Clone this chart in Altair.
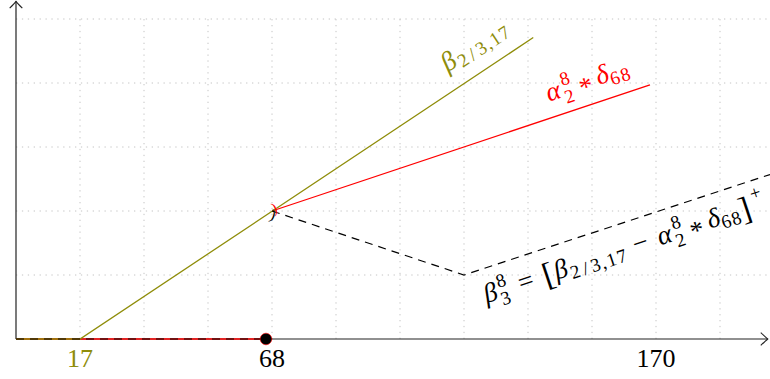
import altair as alt
import pandas as pd

# ---- data -------------------------------------------------------------
tick_values = [17, 68, 170]
tick_labels = ["17", "68", "170"]
tick_colors = ["#8f8d0a", "black", "black"]

# beta_{2/3,17}: zero up to 17, then rising
beta_x = [0, 17, 137.4]
beta_y = [0, 0, 4.71]

# alpha_2^8 * delta_68: zero up to 68, then jumps and rises
alpha_seg = [0, 0, 1, 1]
alpha_x = [0, 68, 68, 168.4]
alpha_y = [0, 0, 2, 3.97]

# beta_3^8 = [beta - alpha]^+
diff_seg = [0, 0, 1, 1, 1]
diff_x = [0, 68, 68, 119, 200.28]
diff_y = [0, 0, 2, 1, 2.57]

dot_x = [66.4]
dot_y = [0]

grid_x = [17 * k for k in range(1, 12)]
grid_y = [1, 2, 3, 4, 5]

# ---- scales -----------------------------------------------------------
W, H = 754, 339
X_MAX = W * 17 / 64
Y_MAX = H / 64
FONT = "Liberation Serif"
OLIVE = "#8f8d0a"
RED = "#ff0000"

xs = alt.Scale(domain=[0, X_MAX], nice=False, zero=False)
ys = alt.Scale(domain=[0, Y_MAX], nice=False, zero=False)


def X(field="x"):
    return alt.X(field, type="quantitative", scale=xs, axis=None)


def Y(field="y"):
    return alt.Y(field, type="quantitative", scale=ys, axis=None)


layers = []

# dotted grid
vgrid = pd.DataFrame({"x": grid_x, "y": 0, "y2": 5})
layers.append(
    alt.Chart(vgrid).mark_rule(color="#c4c4c4", strokeWidth=1, strokeDash=[1.3, 4.6])
    .encode(x=X(), y=Y(), y2="y2")
)
hgrid = pd.DataFrame({"y": grid_y, "x": 0, "x2": X_MAX})
layers.append(
    alt.Chart(hgrid).mark_rule(color="#c4c4c4", strokeWidth=1, strokeDash=[1.3, 4.6])
    .encode(y=Y(), x=X(), x2="x2")
)

# axes with arrow tips
arrow = "M -1.1 -1 Q -0.3 -0.25 0 0 Q -0.3 0.25 -1.1 1"
axis_df = pd.DataFrame({"x": [0], "y": [0], "x2": [X_MAX - 0.6], "y2": [Y_MAX - 0.02]})
layers.append(alt.Chart(axis_df).mark_rule(color="#222", strokeWidth=1.2).encode(x=X(), y=Y(), x2="x2"))
layers.append(alt.Chart(axis_df).mark_rule(color="#222", strokeWidth=1.2).encode(x=X(), y=Y(), y2="y2"))
layers.append(
    alt.Chart(axis_df).mark_point(shape=arrow, size=160, color="#222", strokeWidth=1.1, filled=False, opacity=1)
    .encode(x=X("x2"), y=Y())
)
layers.append(
    alt.Chart(axis_df).mark_point(shape=arrow, size=160, color="#222", strokeWidth=1.1, filled=False, opacity=1, angle=270)
    .encode(x=X(), y=Y("y2"))
)

# curves
alpha_df = pd.DataFrame({"x": alpha_x, "y": alpha_y, "seg": alpha_seg})
layers.append(alt.Chart(alpha_df).mark_line(color=RED, strokeWidth=1.3).encode(x=X(), y=Y(), detail="seg:N"))
beta_df = pd.DataFrame({"x": beta_x, "y": beta_y})
layers.append(alt.Chart(beta_df).mark_line(color=OLIVE, strokeWidth=1.3).encode(x=X(), y=Y()))
diff_df = pd.DataFrame({"x": diff_x, "y": diff_y, "seg": diff_seg})
layers.append(
    alt.Chart(diff_df).mark_line(color="black", strokeWidth=1.2, strokeDash=[8, 6])
    .encode(x=X(), y=Y(), detail="seg:N")
)

# open-interval marks at the jump
kink = pd.DataFrame({"x": [68], "y": [2]})
layers.append(
    alt.Chart(kink).mark_text(text=")", font=FONT, fontSize=15, color=RED, angle=341.57, dx=3, dy=-2,
                              align="center", baseline="middle").encode(x=X(), y=Y())
)
layers.append(
    alt.Chart(kink).mark_text(text=")", font=FONT, fontSize=15, color="black", angle=18.43, dx=2, dy=3,
                              align="center", baseline="middle").encode(x=X(), y=Y())
)

# point on the axis
dot_df = pd.DataFrame({"x": dot_x, "y": dot_y})
layers.append(
    alt.Chart(dot_df).mark_circle(size=135, color="black", opacity=1, stroke=RED, strokeWidth=0.6)
    .encode(x=X(), y=Y())
)

# tick labels
ticks_df = pd.DataFrame({"x": tick_values, "y": 0, "label": tick_labels, "col": tick_colors})
layers.append(
    alt.Chart(ticks_df).mark_text(font=FONT, fontSize=26, dy=28, align="center", baseline="alphabetic")
    .encode(x=X(), y=Y(), text="label:N", color=alt.Color("col:N", scale=None))
)

# ---- math labels, typeset glyph by glyph ------------------------------
# advance widths (in em) of a TeX-like math font
BASE_ADV = {"α": .640, "β": .566, "δ": .444, "=": .778, "+": .778, "−": .778,
            "*": .5, "[": .417, "]": .417}
SCRIPT_ADV = {"/": .569, ",": .32, "+": .885}
GLYPH_DY = {"*": 0.24}  # vertical nudge (em) for glyphs that sit too high


def math_label(ax, ay, angle, color, tokens, f=27):
    src = pd.DataFrame({"x": [ax], "y": [ay]})
    out = []
    s = 0.7 * f

    def glyph(ch, center, dy, size, italic=False):
        out.append(
            alt.Chart(src).mark_text(text=ch, dx=center, dy=dy, angle=angle, fontSize=size, font=FONT,
                                     fontStyle="italic" if italic else "normal", color=color,
                                     align="center", baseline="alphabetic")
            .encode(x=X(), y=Y())
        )

    def script_run(text, start, dy):
        p = start
        for ch in text:
            w = SCRIPT_ADV.get(ch, .569) * s
            glyph(ch, p + w / 2, dy, 19)
            p += w
        return p

    pos = 0.0
    for kind, val in tokens:
        if kind in ("var", "num"):
            w = BASE_ADV.get(val, .5) * f
            glyph(val, pos + w / 2, GLYPH_DY.get(val, 0) * f, 27, kind == "var")
            pos += w
        elif kind == "big":
            w = BASE_ADV[val] * f
            glyph(val, pos + w / 2, 0.11 * f, 33)
            pos += w
        elif kind == "sub":
            pos = script_run(val, pos, 0.17 * f)
        elif kind == "sup":
            pos = script_run(val, pos + 0.03 * f, -0.5 * f)
        elif kind == "subsup":
            lo, hi = val
            e1 = script_run(lo, pos, 0.28 * f)
            e2 = script_run(hi, pos + 0.03 * f, -0.4 * f)
            pos = max(e1, e2)
        elif kind in ("rel", "bin"):
            gap = (0.278 if kind == "rel" else 0.222) * f
            w = BASE_ADV.get(val, .5) * f
            pos += gap
            glyph(val, pos + w / 2, GLYPH_DY.get(val, 0) * f, 27)
            pos += w + gap
    return out


layers += math_label(114.5, 4.156, 326.31, OLIVE, [("var", "β"), ("sub", "2/3,17")])
layers += math_label(141.2, 3.70, 341.57, RED,
                     [("var", "α"), ("subsup", ("2", "8")), ("bin", "*"), ("var", "δ"), ("sub", "68")])
layers += math_label(124.8, 0.555, 341.57, "black",
                     [("var", "β"), ("subsup", ("3", "8")), ("rel", "="), ("big", "["),
                      ("var", "β"), ("sub", "2/3,17"), ("bin", "−"),
                      ("var", "α"), ("subsup", ("2", "8")), ("bin", "*"),
                      ("var", "δ"), ("sub", "68"), ("big", "]"), ("sup", "+")])

chart = (
    alt.layer(*layers)
    .properties(width=W, height=H, padding={"left": 16, "top": 0, "right": 0, "bottom": 40},
                autosize=alt.AutoSizeParams(type="none"))
    .configure_view(stroke=None)
)

chart.save("out.html", embed_options={"renderer": "svg", "actions": False})
